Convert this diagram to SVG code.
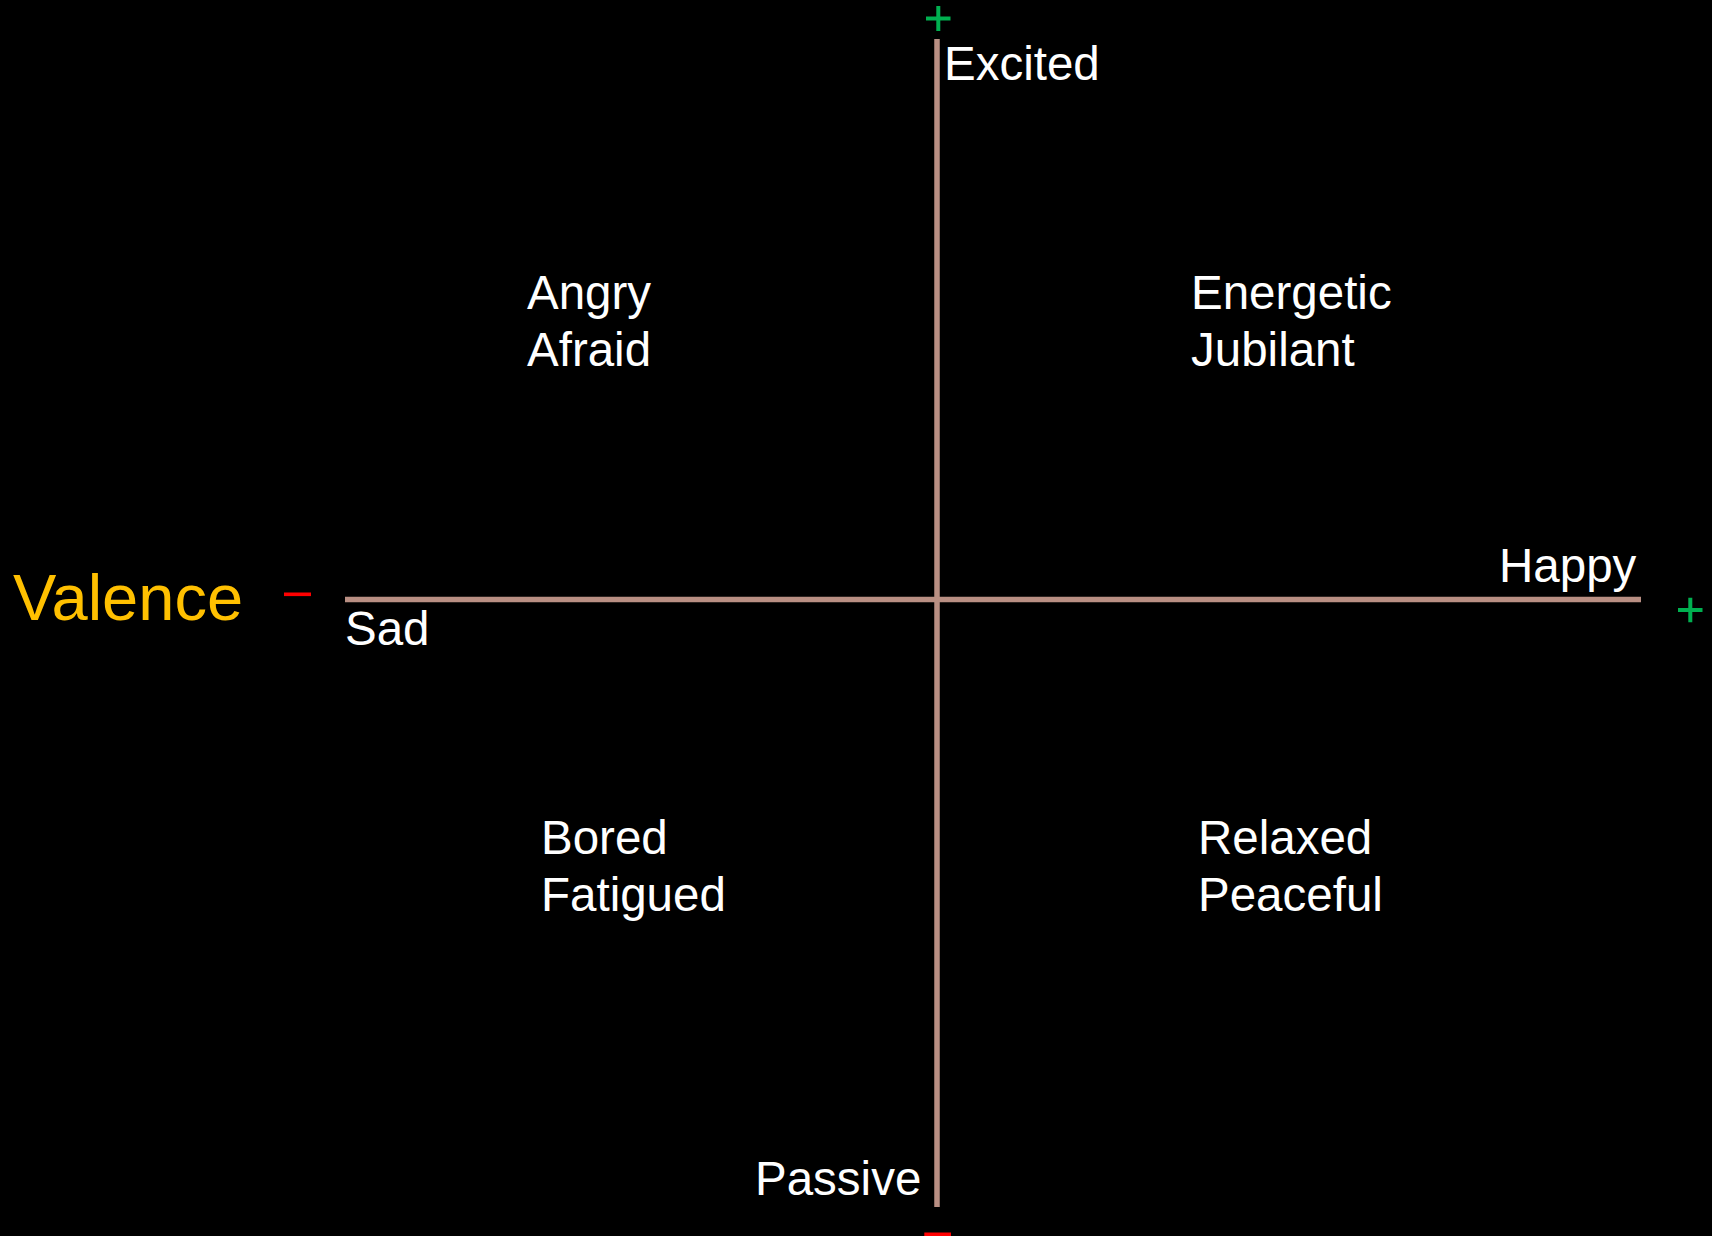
<svg xmlns="http://www.w3.org/2000/svg" width="1712" height="1236" viewBox="0 0 1712 1236">
<style>
.lbl{font-family:"Liberation Sans",Arial,sans-serif;font-size:47.5px;fill:#FFFFFF}
.axis{stroke:#B98F83;stroke-width:5.5;fill:none}
.plus{stroke:#00B050;stroke-width:4;fill:none}
.minus{fill:#FF0000}
</style>
<rect x="0" y="0" width="1712" height="1236" fill="#000000"/>
<g id="connectors">
<line class="axis" x1="937" y1="39" x2="937" y2="1207"/>
<line class="axis" x1="345" y1="599.5" x2="1641" y2="599.5"/>
</g>
<g id="signs">
<path class="plus" d="M926 18.5H950.5M938.3 6V31"/>
<path class="plus" d="M1678 610H1702.5M1690.3 597.7V622.3"/>
<rect class="minus" x="284" y="592.5" width="27" height="3.6"/>
<rect class="minus" x="924.3" y="1232.5" width="26.7" height="4"/>
</g>
<g id="valence"><text x="13" y="620" font-family="Liberation Sans, Arial, sans-serif" font-size="65" fill="#FFC000">Valence</text></g>
<g id="excited"><text class="lbl" x="944" y="79.5">Excited</text></g>
<g id="passive"><text class="lbl" x="755" y="1195">Passive</text></g>
<g id="sad"><text class="lbl" x="345" y="645">Sad</text></g>
<g id="happy"><text class="lbl" x="1499" y="581.7">Happy</text></g>
<g id="q2"><text class="lbl" x="527" y="309">Angry</text><text class="lbl" x="527" y="366">Afraid</text></g>
<g id="q1"><text class="lbl" x="1191" y="309">Energetic</text><text class="lbl" x="1191" y="366">Jubilant</text></g>
<g id="q3"><text class="lbl" x="541" y="853.5">Bored</text><text class="lbl" x="541" y="911">Fatigued</text></g>
<g id="q4"><text class="lbl" x="1198" y="853.5">Relaxed</text><text class="lbl" x="1198" y="911">Peaceful</text></g>
</svg>
